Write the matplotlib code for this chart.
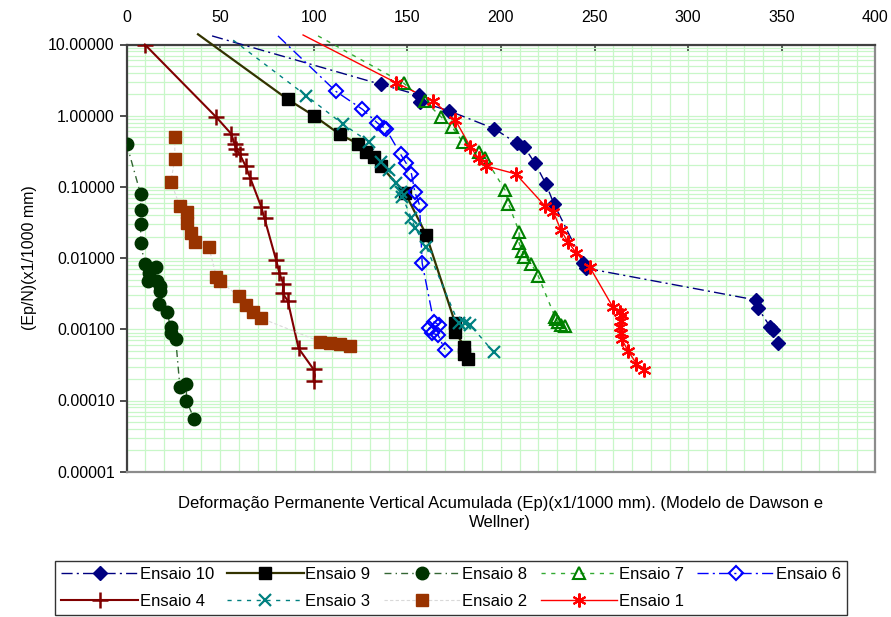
import numpy as np
import matplotlib
matplotlib.use("Agg")
import matplotlib.pyplot as plt
from matplotlib.ticker import FixedLocator, FuncFormatter, LogLocator, MultipleLocator

plt.rcParams['font.family'] = ['Liberation Sans', 'DejaVu Sans']

# ---------------- data (Ep x1/1000 mm , Ep/N x1/1000 mm) ----------------
e10_x = [45.7, 135.7, 156.1, 156.5, 172.1, 196.4, 208.4, 212.5, 218.2, 224.0, 228.3, 244.0, 245.5, 336.1, 337.3, 343.7, 345.0, 348.0]
e10_y = [13.2, 2.76, 1.95, 1.57, 1.175, 0.657, 0.41, 0.36, 0.214, 0.11, 0.0575, 0.0085, 0.0072, 0.00258, 0.00197, 0.00109, 0.00098, 0.00065]

e9_x = [38.2, 86.1, 100.3, 113.9, 123.4, 127.8, 132.0, 135.9, 148.7, 160.0, 175.6, 175.6, 180.4, 180.4, 182.2]
e9_y = [13.9, 1.70, 0.99, 0.548, 0.406, 0.307, 0.266, 0.194, 0.083, 0.0214, 0.00121, 0.00093, 0.00057, 0.00045, 0.00038]

e8_x = [0.1, 7.55, 7.55, 7.55, 7.55, 9.8, 15.7, 12.1, 11.6, 16.1, 17.8, 17.8, 17.4, 21.7, 23.5, 24.0, 26.3, 28.5, 32.0, 32.0, 36.1]
e8_y = [0.40, 0.079, 0.047, 0.030, 0.0161, 0.0083, 0.0074, 0.0061, 0.0048, 0.0047, 0.0040, 0.0035, 0.00227, 0.00173, 0.00107, 0.00088, 0.00072, 0.000156, 0.000171, 0.0000994, 0.0000555]

e7_x = [102.3, 148.1, 159.3, 168.2, 173.8, 179.5, 188.1, 191.6, 202.2, 204.0, 209.7, 209.7, 211.4, 212.5, 216.2, 219.9, 228.8, 229.6, 230.2, 232.3, 234.1]
e7_y = [13.2, 2.85, 1.61, 0.95, 0.70, 0.43, 0.312, 0.252, 0.090, 0.0575, 0.0235, 0.0161, 0.0124, 0.0102, 0.0083, 0.0056, 0.0015, 0.00138, 0.00128, 0.00115, 0.00111]

e6_x = [80.9, 111.8, 126.0, 134.0, 137.5, 138.7, 146.4, 149.4, 152.2, 154.0, 156.5, 157.9, 164.1, 166.8, 161.4, 163.2, 166.4, 170.0]
e6_y = [13.2, 2.20, 1.23, 0.79, 0.68, 0.64, 0.287, 0.214, 0.152, 0.084, 0.0557, 0.0085, 0.00128, 0.00115, 0.00103, 0.00088, 0.00083, 0.00052]

e4_x = [9.8, 48.0, 56.0, 57.7, 58.6, 60.4, 63.6, 66.1, 71.9, 73.7, 79.9, 81.7, 83.8, 83.4, 86.1, 91.9, 99.9, 99.9]
e4_y = [10.0, 0.95, 0.553, 0.40, 0.34, 0.29, 0.197, 0.133, 0.053, 0.036, 0.0094, 0.0061, 0.0043, 0.0032, 0.00252, 0.00054, 0.000274, 0.00019]

e3_x = [57.0, 95.9, 115.7, 129.7, 135.7, 140.0, 143.7, 146.4, 147.3, 152.0, 154.0, 160.0, 177.4, 181.0, 183.6, 196.0]
e3_y = [11.5, 1.92, 0.757, 0.425, 0.222, 0.175, 0.112, 0.086, 0.073, 0.037, 0.0269, 0.0145, 0.00121, 0.00121, 0.00115, 0.00048]

e2_x = [25.8, 25.8, 23.7, 28.5, 32.3, 32.3, 34.7, 36.4, 44.0, 48.0, 50.1, 60.0, 63.9, 67.8, 71.9, 103.5, 108.8, 114.1, 119.4]
e2_y = [0.51, 0.25, 0.118, 0.0534, 0.0449, 0.0308, 0.0228, 0.0170, 0.0142, 0.0055, 0.0047, 0.0029, 0.0022, 0.00177, 0.00143, 0.00067, 0.00064, 0.00062, 0.00058]

e1_x = [94.3, 144.0, 163.6, 175.6, 183.6, 188.0, 191.9, 207.9, 223.5, 227.9, 232.0, 235.7, 240.1, 247.5, 259.8, 263.4, 264.6, 264.3, 263.6, 264.3, 264.6, 267.8, 272.3, 276.4]
e1_y = [13.6, 2.90, 1.62, 0.87, 0.367, 0.252, 0.197, 0.152, 0.054, 0.045, 0.0246, 0.017, 0.0119, 0.0074, 0.00204, 0.00177, 0.00159, 0.00132, 0.00108, 0.00088, 0.00072, 0.00050, 0.00033, 0.00027]

x_ticks = [0, 50, 100, 150, 200, 250, 300, 350, 400]
y_ticks = [0.00001, 0.0001, 0.001, 0.01, 0.1, 1, 10]

series = {
    "Ensaio 10": (e10_x, e10_y, dict(color="#000080", ls=(0, (8, 3, 1.5, 3)), lw=1.0), dict(marker="D", mfc="#000080", mec="#000080", ms=7.5)),
    "Ensaio 9": (e9_x, e9_y, dict(color="#333300", ls="-", lw=1.6), dict(marker="s", mfc="black", mec="black", ms=8.5)),
    "Ensaio 8": (e8_x, e8_y, dict(color="#336633", ls=(0, (5, 3, 1, 3)), lw=1.0), dict(marker="o", mfc="#003300", mec="#003300", ms=9)),
    "Ensaio 7": (e7_x, e7_y, dict(color="#33aa33", ls=(0, (3, 4)), lw=1.0), dict(marker="^", mfc="none", mec="#008000", mew=1.5, ms=9)),
    "Ensaio 6": (e6_x, e6_y, dict(color="#0000ff", ls=(0, (8, 3, 1.5, 3)), lw=1.0), dict(marker="D", mfc="none", mec="#0000ff", mew=1.5, ms=7)),
    "Ensaio 4": (e4_x, e4_y, dict(color="#800000", ls="-", lw=1.5), dict(marker="+", mfc="#800000", mec="#800000", mew=1.8, ms=11)),
    "Ensaio 3": (e3_x, e3_y, dict(color="#008080", ls=(0, (3, 4)), lw=1.0), dict(marker="x", mfc="#008080", mec="#008080", mew=1.6, ms=9)),
    "Ensaio 2": (e2_x, e2_y, dict(color="#d9d9d9", ls=(0, (3, 2)), lw=0.8), dict(marker="s", mfc="#993300", mec="#993300", ms=8.5)),
    "Ensaio 1": (e1_x, e1_y, dict(color="#ff0000", ls="-", lw=1.0), dict(marker=(6, 2, 0), mfc="#ff0000", mec="#ff0000", mew=1.5, ms=10)),
}
# legend is filled column-wise by matplotlib; this order gives the reference rows
legend_order = ["Ensaio 10", "Ensaio 4", "Ensaio 9", "Ensaio 3", "Ensaio 8", "Ensaio 2", "Ensaio 7", "Ensaio 1", "Ensaio 6"]

fig = plt.figure(figsize=(8.91, 6.17), dpi=100)
ax = fig.add_axes([126.5 / 891, 1 - 471.7 / 617, (875.5 - 126.5) / 891, (471.7 - 44.5) / 617])
ax.set_yscale("log")
ax.set_xlim(0, 400)
ax.set_ylim(1e-5, 10)

handles = {}
for name, (xs, ys, lstyle, mstyle) in series.items():
    xs = np.asarray(xs)
    ys = np.asarray(ys)
    ax.plot(xs, ys, clip_on=False, zorder=3, **lstyle)
    m = ys <= 10.0001
    ax.plot(xs[m], ys[m], ls="none", zorder=4, **mstyle)
    h, = ax.plot([], [], label=name, **lstyle, **mstyle)
    handles[name] = h

# grid
ax.xaxis.set_minor_locator(MultipleLocator(10))
ax.yaxis.set_minor_locator(LogLocator(base=10, subs=np.arange(2, 10)))
ax.grid(True, which="both", axis="both", color="#c8f7c8", lw=0.9, zorder=0)
ax.set_axisbelow(True)

ax.xaxis.set_major_locator(FixedLocator(x_ticks))
ax.xaxis.tick_top()
ax.tick_params(axis="x", which="major", direction="in", length=5, width=1.2, colors="#303030",
               labelcolor="black", labelsize=11.5, pad=14)
ax.tick_params(axis="x", which="minor", length=0)
ax.yaxis.set_major_locator(FixedLocator(y_ticks))
ax.yaxis.set_major_formatter(FuncFormatter(lambda v, p: f"{v:.5f}"))
ax.tick_params(axis="y", which="major", direction="out", length=5, width=1.2, colors="#303030",
               labelcolor="black", labelsize=11.5)
ax.tick_params(axis="y", which="minor", length=0)

for s in ("top", "left"):
    ax.spines[s].set_color("#404040")
    ax.spines[s].set_linewidth(1.6)
for s in ("bottom", "right"):
    ax.spines[s].set_color("#8c8c8c")
    ax.spines[s].set_linewidth(1.6)

ax.set_ylabel("(Ep/N)(x1/1000 mm)", fontsize=11.5, labelpad=8)
fig.text(500 / 891, 1 - 513 / 617,
         "Deformação Permanente Vertical Acumulada (Ep)(x1/1000 mm). (Modelo de Dawson e\nWellner)",
         ha="center", va="center", fontsize=12, linespacing=1.35)

leg = fig.legend(handles=[handles[n] for n in legend_order], ncol=5, loc="center",
                 bbox_to_anchor=(451 / 891, 1 - 588 / 617), fontsize=12,
                 frameon=True, fancybox=False, edgecolor="black", handlelength=4.6,
                 handletextpad=0.1, columnspacing=0.8, borderpad=0.35, labelspacing=0.7)
leg.get_frame().set_linewidth(1.0)

fig.savefig("out.png", dpi=100)
